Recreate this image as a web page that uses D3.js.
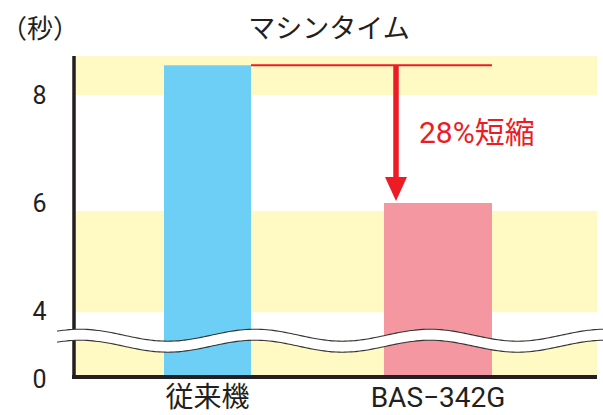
<!DOCTYPE html>
<html>
<head>
<meta charset="utf-8">
<script src="https://cdn.jsdelivr.net/npm/d3@7"></script>
<style>
  body { margin: 0; background: #fff; }
  text { font-family: Roboto, "Noto Sans CJK JP", sans-serif; fill: #231f20; }
</style>
</head>
<body>
<div id="chart"></div>
<script>
// data
const categories = ["従来機", "BAS−342G"];
const times = [8.55, 6.0];
const yTicks = [0, 4, 6, 8];
const bandRanges = [[0, 2.2], [3.93, 5.85], [8, 8.72]];
const breakValue = 2.2;
const title = "マシンタイム";
const unitLabel = "（秒）";
const reductionLabel = "28%短縮";

const width = 603;
const height = 415;
const barColors = ["#6dcff6", "#f497a1"];
const barWidths = [87, 108];
const red = "#ed1c24";

let svg = d3.select("#chart")
    .append("svg")
    .attr("width", width)
    .attr("height", height);

// broken y axis: 0..4 squeezed under the break
let y = d3.scaleLinear()
    .domain([0, 4, 8])
    .range([377, 311, 95]);

let x = d3.scalePoint()
    .domain(categories)
    .range([207.5, 438]);

let plotLeft = 75, plotRight = 597;

// yellow stripes
svg.selectAll(".band")
    .data(bandRanges)
    .enter()
    .append("rect")
    .attr("x", plotLeft)
    .attr("width", plotRight - plotLeft)
    .attr("y", d => y(d[1]))
    .attr("height", d => y(d[0]) - y(d[1]))
    .style("fill", "#fff9c4");

// bars
svg.selectAll(".bar")
    .data(times)
    .enter()
    .append("rect")
    .attr("x", (d, i) => x(categories[i]) - barWidths[i] / 2)
    .attr("width", (d, i) => barWidths[i])
    .attr("y", d => y(d))
    .attr("height", d => y(0) - y(d))
    .style("fill", (d, i) => barColors[i]);

// axes lines
svg.append("line")
    .attr("x1", 74).attr("x2", 74)
    .attr("y1", y(8.72)).attr("y2", y(0) + 2)
    .style("stroke", "#231f20")
    .style("stroke-width", 3.5);

svg.append("line")
    .attr("x1", 72).attr("x2", plotRight)
    .attr("y1", y(0)).attr("y2", y(0))
    .style("stroke", "#231f20")
    .style("stroke-width", 4);

// wavy break
let mid = y(breakValue);
let xs = d3.range(57, 606, 3);
let wave = (xv, off) => mid + off - 6 * Math.cos(2 * Math.PI * (xv - 80) / 175);
let upper = xs.map(v => [v, wave(v, -5.5)]);
let lower = xs.map(v => [v, wave(v, 5.5)]);
let line = d3.line().curve(d3.curveBasis);

svg.append("path")
    .attr("d", line(upper) + "L" + line(lower.slice().reverse()).slice(1) + "Z")
    .style("fill", "#fff");

[upper, lower].forEach(pts => {
    svg.append("path")
        .attr("d", line(pts))
        .style("fill", "none")
        .style("stroke", "#333")
        .style("stroke-width", 1.1);
});

// y tick labels
svg.selectAll(".tick")
    .data(yTicks)
    .enter()
    .append("text")
    .attr("x", 39.5)
    .attr("y", d => y(d) + (d === 0 ? 2 : 0))
    .attr("dy", "0.36em")
    .attr("text-anchor", "middle")
    .style("font-size", "25px")
    .text(d => d);

// category labels
svg.selectAll(".cat")
    .data(categories)
    .enter()
    .append("text")
    .attr("x", d => x(d))
    .attr("y", 407)
    .attr("text-anchor", "middle")
    .style("font-size", "28px")
    .text(d => d);

// title and unit
svg.append("text")
    .attr("x", 329)
    .attr("y", 38)
    .attr("text-anchor", "middle")
    .style("font-size", "27px")
    .text(title);

svg.append("text")
    .attr("x", 40)
    .attr("y", 38)
    .attr("text-anchor", "middle")
    .style("font-size", "26px")
    .text(unitLabel);

// reduction annotation
let topY = y(times[0]);
let blueRight = x(categories[0]) + barWidths[0] / 2;
let pinkLeft = x(categories[1]) - barWidths[1] / 2;
let pinkRight = x(categories[1]) + barWidths[1] / 2;
let arrowX = pinkLeft + 12;
let tipY = y(times[1]) - 2;

svg.append("line")
    .attr("x1", blueRight).attr("x2", pinkRight)
    .attr("y1", topY).attr("y2", topY)
    .style("stroke", red)
    .style("stroke-width", 2);

svg.append("line")
    .attr("x1", arrowX).attr("x2", arrowX)
    .attr("y1", topY).attr("y2", tipY - 22)
    .style("stroke", red)
    .style("stroke-width", 5.5);

svg.append("path")
    .attr("d", `M${arrowX - 11},${tipY - 24}L${arrowX + 11},${tipY - 24}L${arrowX},${tipY}Z`)
    .style("fill", red);

svg.append("text")
    .attr("x", 419)
    .attr("y", 143)
    .style("font-size", "30px")
    .style("fill", red)
    .text(reductionLabel);
</script>
</body>
</html>
